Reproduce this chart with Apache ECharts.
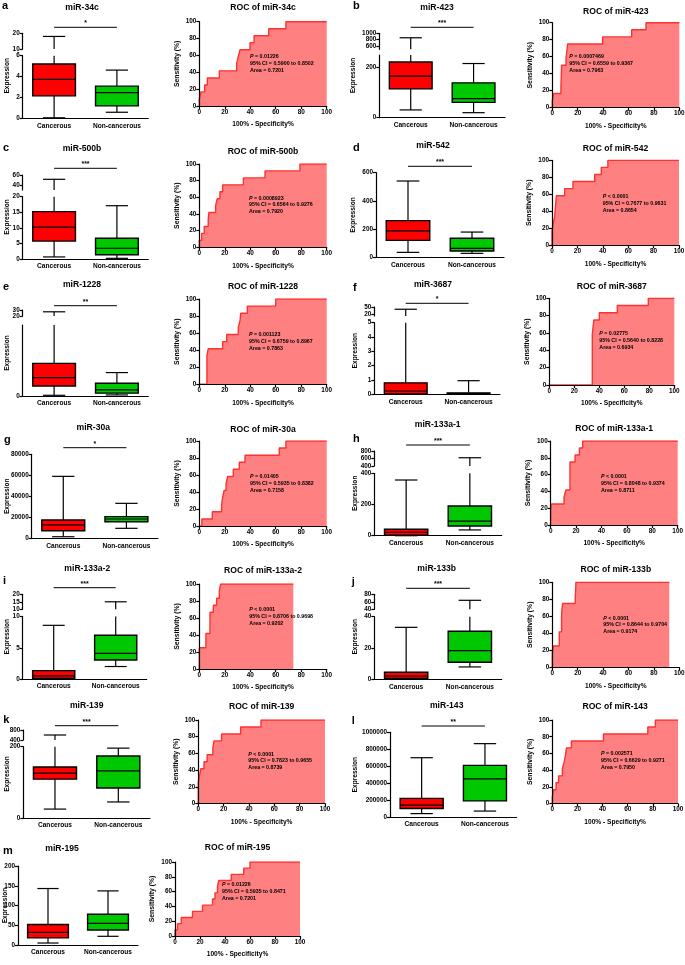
<!DOCTYPE html>
<html><head><meta charset="utf-8">
<script src="https://cdn.jsdelivr.net/npm/echarts@6/dist/echarts.min.js"></script>
<style>html,body{margin:0;padding:0;background:#fff}#c{width:685px;height:965px}</style>
</head><body><div id="c"></div>
<script>
// ---------------- DATA ----------------
const categories = ['Cancerous', 'Non-cancerous'];
// box statistics per group: [min, Q1, median, Q3, max]
const box_a = [[0.05, 2.15, 3.73, 5.2, 18], [0.58, 1.19, 2.47, 3.08, 4.62]];
const box_b = [[31, 115, 166, 222, 860], [20, 61, 76, 139, 216]];
const box_c = [[0.6, 5.7, 10.2, 15.2, 51.4], [0.15, 1.3, 3.4, 6.6, 17.1]];
const box_d = [[35, 120, 187, 260, 541], [28, 45, 64, 135, 179]];
const box_e = [[0.1, 1.4, 2.6, 4.6, 27], [0.15, 0.4, 0.85, 1.8, 3.3]];
const box_f = [[0, 0.02, 0.23, 0.8, 40], [0, 0, 0.02, 0.1, 0.95]];
const box_g = [[1500, 7200, 12700, 17400, 59000], [9500, 15800, 18400, 20600, 33300]];
const box_h = [[0, 4, 22, 41, 357], [37, 62, 94, 190, 620]];
const box_i = [[0, 0.1, 0.5, 1.35, 8.6], [2.0, 3.05, 4.1, 7.0, 15]];
const box_j = [[0, 0.6, 2.1, 4.5, 33.2], [7.9, 10.9, 18.3, 30.7, 64]];
const box_k = [[25, 109, 126, 143, 600], [45, 84, 132, 174, 196]];
const box_l = [[40000, 100000, 140000, 220000, 700000], [70000, 190000, 450000, 610000, 866000]];
const box_m = [[5, 18, 32, 52, 143], [22, 38, 55, 78, 137]];

// y-axis tick labels for each axis segment (lower segment first)
const ticks_a = [[0, 2, 4, 6], [10, 20]];
const ticks_b = [[0, 200], [600, 800, 1000]];
const ticks_c = [[0, 5, 10, 15, 20], [40, 60]];
const ticks_d = [[0, 200, 400, 600]];
const ticks_e = [[0], [20, 30]];
const ticks_f = [[0, 1, 2, 3, 4, 5], [20, 30, 40, 50]];
const ticks_g = [[0, 20000, 40000, 60000, 80000]];
const ticks_h = [[0, 200, 400], [400, 600, 800]];
const ticks_i = [[0, 5, 10], [10, 15, 20]];
const ticks_j = [[0, 20, 40], [40, 60, 80]];
const ticks_k = [[0, 200], [400, 500, 600, 800]];
const ticks_l = [[0, 200000, 400000, 600000, 800000, 1000000]];
const ticks_m = [[0, 50, 100, 150, 200]];

// ROC curves: [100% - specificity, sensitivity] at each step
const roc_a = [[0,0],[0,8.3],[1.3,16.7],[4.2,25],[6.3,33.3],[15.7,41.7],[29.3,50],[30.5,58.3],[32,66.7],[39.8,75],[43,83.3],[54.5,91.7],[68,100],[100,100]];
const roc_b = [[0,0],[0,8.3],[1,16.7],[6.8,25],[7,33.3],[7.3,50],[10.8,58.3],[11.5,66.7],[12.1,75],[39.6,83.3],[62.5,91.7],[73.8,100],[100,100]];
const roc_c = [[0,0],[0,8.3],[1.8,16.7],[3.9,25],[7,33.3],[7.5,41.7],[12.8,50],[14.1,58.3],[16.2,66.7],[18.3,75],[34.6,83.3],[51.6,91.7],[79,100],[100,100]];
const roc_d = [[0,0],[0,16.7],[0.8,25],[2.1,33.3],[2.5,41.7],[3,50],[3.4,58.3],[10,66.7],[16.5,75],[33.6,83.3],[38.8,91.7],[44,100],[100,100]];
const roc_e = [[0,0],[6,0],[6,33.3],[7,41.7],[18.3,50],[21.5,58.3],[30.6,66.7],[32,75],[32.5,83.3],[37.7,91.7],[60,100],[100,100]];
const roc_f = [[0,0],[34.4,0],[34.4,58.3],[35,66.7],[35.7,75],[40,83.3],[54.4,91.7],[79.2,100],[100,100]];
const roc_g = [[0,0],[2,8.3],[10.2,16.7],[17.5,25],[18.3,33.3],[19.4,41.7],[21,50],[22.3,58.3],[26.7,66.7],[31.4,75],[35.9,83.3],[62.8,91.7],[68,100],[100,100]];
const roc_h = [[0,0],[0,16.7],[0.5,25],[10.5,33.3],[12,41.7],[15.2,75],[19.2,83.3],[22.6,91.7],[25.2,100],[100,100]];
const roc_i = [[0,0],[0,25],[5.2,41.7],[8.4,66.7],[11,75],[13.6,83.3],[15.7,91.7],[16.8,100],[73.8,100]];
const roc_j = [[0,0],[0,16.7],[0.8,25],[5.5,41.7],[7.3,58.3],[7.5,66.7],[8.1,75],[18.1,83.3],[18.4,91.7],[18.6,100],[92.1,100]];
const roc_k = [[0,0],[0,25],[1,33.3],[2,41.7],[4.5,50],[7,58.3],[11.5,66.7],[12.4,75],[18.4,83.3],[33.4,91.7],[49.5,100],[100,100]];
const roc_l = [[0,0],[0,8.3],[1,16.7],[3,25],[5,33.3],[8,41.7],[9.5,50],[10.5,58.3],[11.3,66.7],[15.2,75],[40.7,83.3],[76,91.7],[82,100],[100,100]];
const roc_m = [[0,0],[0,8.3],[2,16.7],[5,25],[14,33.3],[22,41.7],[30,50],[32,58.3],[34,66.7],[35,75],[45,83.3],[55,91.7],[60,100],[100,100]];

const stats_text = {
  a: ['0.01226', '95% CI = 0.5900 to 0.8502', 'Area = 0.7201'],
  b: ['0.0007469', '95% CI = 0.6559 to 0.9367', 'Area = 0.7963'],
  c: ['0.0008923', '95% CI = 0.6564 to 0.9276', 'Area = 0.7920'],
  d: ['< 0.0001', '95% CI = 0.7677 to 0.9631', 'Area = 0.8654'],
  e: ['0.001123', '95% CI = 0.6759 to 0.8967', 'Area = 0.7863'],
  f: ['0.02775', '95% CI = 0.5640 to 0.8228', 'Area = 0.6934'],
  g: ['0.01405', '95% CI = 0.5935 to 0.8382', 'Area = 0.7158'],
  h: ['< 0.0001', '95% CI = 0.8048 to 0.9374', 'Area = 0.8711'],
  i: ['< 0.0001', '95% CI = 0.8706 to 0.9698', 'Area = 0.9202'],
  j: ['< 0.0001', '95% CI = 0.8644 to 0.9704', 'Area = 0.9174'],
  k: ['< 0.0001', '95% CI = 0.7823 to 0.9655', 'Area = 0.8739'],
  l: ['0.002571', '95% CI = 0.6629 to 0.9271', 'Area = 0.7950'],
  m: ['0.01226', '95% CI = 0.5935 to 0.8471', 'Area = 0.7201']
};
const names = {a:'miR-34c', b:'miR-423', c:'miR-500b', d:'miR-542', e:'miR-1228', f:'miR-3687', g:'miR-30a',
  h:'miR-133a-1', i:'miR-133a-2', j:'miR-133b', k:'miR-139', l:'miR-143', m:'miR-195'};
const signif = {a:'*', b:'***', c:'***', d:'***', e:'**', f:'*', g:'*', h:'***', i:'***', j:'***', k:'***', l:'**', m:''};

// ---------------- LAYOUT (pixels) ----------------
const FONT = '"Liberation Sans", Arial, sans-serif';
const LAY = {
  a: {box:{left:22.7,right:148.3,base:118.3,segs:[{min:0,max:6,top:55.7},{min:10,max:20,top:33.3,bottom:49}],sig:27.3,title:[82,8],letter:[2,6],ylab:7},
      roc:{left:199.3,right:326.7,top:21.7,bottom:106,title:8,text:[250,57]}},
  b: {box:{left:379.3,right:505,base:117.7,segs:[{min:0,max:250,top:55},{min:500,max:1000,top:33.3,bottom:49.3}],sig:27.3,title:[437,8],letter:[353,6],ylab:353},
      roc:{left:552.3,right:679.3,top:22.7,bottom:107.7,title:11.7,text:[569.3,57]}},
  c: {box:{left:22.7,right:148.3,base:258.8,segs:[{min:0,max:20,top:196.7},{min:30,max:60,top:175,bottom:190}],sig:168.3,title:[82,149],letter:[3,148],ylab:7},
      roc:{left:199.3,right:326.7,top:164,bottom:247.3,title:151.7,text:[249,198.3]}},
  d: {box:{left:376,right:504,base:257.3,segs:[{min:0,max:600,top:172.7}],sig:166.3,title:[433,145.7],letter:[353,148],ylab:353},
      roc:{left:552,right:679,top:160.3,bottom:245.3,title:149,text:[602.7,196.7]}},
  e: {box:{left:22.7,right:148.3,base:396,segs:[{min:0,max:10,top:325},{min:20,max:30,top:310,bottom:316}],sig:305.7,title:[82,285],letter:[3,287],ylab:7},
      roc:{left:199.3,right:326.7,top:299,bottom:384.3,title:286.7,text:[249,335]}},
  f: {box:{left:374.3,right:500,base:394.3,segs:[{min:0,max:5,top:322.7},{min:10,max:50,top:307,bottom:316}],sig:303.3,title:[433,284.3],letter:[353,288],ylab:355},
      roc:{left:549.3,right:674.3,top:298.3,bottom:385,title:286.7,text:[599.3,334]}},
  g: {box:{left:31.7,right:158,base:538.3,segs:[{min:0,max:80000,top:454.3}],sig:447.7,title:[93.3,427.7],letter:[4,440],ylab:7},
      roc:{left:199.3,right:326.7,top:441,bottom:526,title:430,text:[250,476.7]}},
  h: {box:{left:374.3,right:501.7,base:535.7,segs:[{min:0,max:400,top:473.3},{min:400,max:800,top:451,bottom:466}],sig:445,title:[437.7,424.3],letter:[353,439.3],ylab:355},
      roc:{left:550.7,right:677.7,top:441,bottom:525,title:428.3,text:[601,476.7]}},
  i: {box:{left:22.7,right:146.7,base:679,segs:[{min:0,max:10,top:616.6},{min:10,max:20,top:594.3,bottom:609.3}],sig:587.7,title:[87.3,568.3],letter:[3,581],ylab:7},
      roc:{left:199.3,right:326.7,top:584,bottom:669,title:571,text:[249.3,610]}},
  j: {box:{left:374.3,right:501.7,base:679.3,segs:[{min:0,max:40,top:616.7},{min:40,max:80,top:594.3,bottom:609.3}],sig:588.3,title:[436.7,568.3],letter:[351.7,582.3],ylab:355},
      roc:{left:552.3,right:679.3,top:582.3,bottom:667.3,title:570,text:[603.3,618.3]}},
  k: {box:{left:23.3,right:150,base:818,segs:[{min:0,max:200,top:746.7},{min:400,max:800,top:730,bottom:740}],sig:725.7,title:[86.7,705.7],letter:[3.3,720],ylab:7},
      roc:{left:198.3,right:325,top:720,bottom:803.5,title:706.7,text:[248.3,754.3]}},
  l: {box:{left:390,right:516.6,base:817,segs:[{min:0,max:1000000,top:732.3}],sig:726,title:[446.7,705.7],letter:[351.7,721],ylab:355},
      roc:{left:552.3,right:678,top:720,bottom:803.7,title:706.7,text:[601,754]}},
  m: {box:{left:18,right:138,base:945,segs:[{min:0,max:200,top:866}],sig:null,title:[62,849],letter:[3,851],ylab:5},
      roc:{left:175,right:300,top:862,bottom:936,title:848,text:[222,885]}}
};

const DATA = {
  a:{box:box_a,ticks:ticks_a,roc:roc_a}, b:{box:box_b,ticks:ticks_b,roc:roc_b}, c:{box:box_c,ticks:ticks_c,roc:roc_c},
  d:{box:box_d,ticks:ticks_d,roc:roc_d}, e:{box:box_e,ticks:ticks_e,roc:roc_e}, f:{box:box_f,ticks:ticks_f,roc:roc_f},
  g:{box:box_g,ticks:ticks_g,roc:roc_g}, h:{box:box_h,ticks:ticks_h,roc:roc_h}, i:{box:box_i,ticks:ticks_i,roc:roc_i},
  j:{box:box_j,ticks:ticks_j,roc:roc_j}, k:{box:box_k,ticks:ticks_k,roc:roc_k}, l:{box:box_l,ticks:ticks_l,roc:roc_l},
  m:{box:box_m,ticks:ticks_m,roc:roc_m}
};

// ---------------- BUILD ----------------
const FILLS = ['#ff0000', '#00c800'];
const option = {animation:false, backgroundColor:'#fff', grid:[], xAxis:[], yAxis:[], series:[], graphic:[]};
const lblStyle = (size) => ({color:'#000', fontSize:size, fontWeight:'bold', fontFamily:FONT});
const axLine = {show:true, lineStyle:{color:'#000', width:1.2}};
const plain = v => String(v);

function txt(x, y, text, size, opts) {
  opts = opts || {};
  const el = {type:'text', x:x, y:y, rotation:opts.rotation || 0, z:100, silent:true,
    style:{text:text, fill:'#000', font:(opts.italic?'italic ':'') + 'bold ' + size + 'px ' + FONT,
      align:opts.align || 'center', verticalAlign:'middle', textAlign:opts.align || 'center', textVerticalAlign:'middle'}};
  if (opts.rich) el.style.rich = opts.rich;
  option.graphic.push(el);
}

function makeBoxRender(lo, hi) {
  return function (params, api) {
    const i = api.value(0);
    const s = [api.value(1), api.value(2), api.value(3), api.value(4), api.value(5)];
    const cx = api.coord([i, lo])[0];
    const bw = api.size([1, 0])[0] * 0.68;
    const cw = bw * 0.52;
    const Y = v => api.coord([i, Math.max(lo, Math.min(hi, v))])[1];
    const ch = [];
    const st = {stroke:'#000', lineWidth:1.2};
    const seg = (a, b) => { if (b < lo || a > hi) return; const y1 = Y(a), y2 = Y(b); if (Math.abs(y1 - y2) < 0.01) return;
      ch.push({type:'line', shape:{x1:cx, y1:y1, x2:cx, y2:y2}, style:st}); };
    seg(s[0], s[1]); seg(s[3], s[4]);
    const cap = v => { if (v < lo || v > hi) return; const y = Y(v);
      ch.push({type:'line', shape:{x1:cx - cw / 2, y1:y, x2:cx + cw / 2, y2:y}, style:st}); };
    cap(s[0]); cap(s[4]);
    if (!(s[3] < lo || s[1] > hi)) {
      const yt = Y(s[3]), yb = Y(s[1]);
      ch.push({type:'rect', shape:{x:cx - bw / 2, y:yt, width:bw, height:Math.max(0.6, yb - yt)},
        style:{fill:FILLS[i], stroke:'#000', lineWidth:1.4}});
    }
    if (s[2] >= lo && s[2] <= hi) { const y = Y(s[2]);
      ch.push({type:'line', shape:{x1:cx - bw / 2, y1:y, x2:cx + bw / 2, y2:y}, style:{stroke:'#000', lineWidth:1.2}}); }
    return {type:'group', children:ch};
  };
}

function addBox(key) {
  const lay = LAY[key].box, d = DATA[key];
  let topGi = 0, topSeg = null;
  lay.segs.forEach((sg, si) => {
    const gi = option.grid.length;
    const bottom = si === 0 ? lay.base : sg.bottom;
    option.grid.push({left:lay.left, top:sg.top, width:lay.right - lay.left, height:bottom - sg.top, containLabel:false, outerBoundsMode:'none'});
    option.xAxis.push({type:'category', gridIndex:gi, data:categories, show:si === 0, boundaryGap:true,
      axisLine:axLine, axisTick:{show:false}, axisLabel:Object.assign({margin:4, interval:0}, lblStyle(6.6)), splitLine:{show:false}, z:1});
    const tv = d.ticks[si];
    option.yAxis.push({type:'value', gridIndex:gi, min:sg.min, max:sg.max, axisLine:axLine,
      axisTick:{show:true, length:3, lineStyle:{color:'#000', width:1.2}, customValues:tv},
      axisLabel:Object.assign({margin:3, customValues:tv, showMinLabel:true, showMaxLabel:true, formatter:plain}, lblStyle(6.4)),
      splitLine:{show:false}, z:1});
    option.series.push({type:'custom', xAxisIndex:gi, yAxisIndex:gi, clip:false, z:5,
      data:d.box.map((v, i) => [i].concat(v)), renderItem:makeBoxRender(sg.min, sg.max)});
    topGi = gi; topSeg = sg;
  });
  if (signif[key]) {
    const sy = lay.sig, sig = signif[key], tmax = topSeg.max;
    option.series.push({type:'custom', xAxisIndex:topGi, yAxisIndex:topGi, clip:false, z:5, data:[[0, tmax]],
      renderItem:function (p, api) {
        const x0 = api.coord([0, tmax])[0], x1 = api.coord([1, tmax])[0];
        return {type:'group', children:[
          {type:'line', shape:{x1:x0, y1:sy, x2:x1, y2:sy}, style:{stroke:'#000', lineWidth:1}},
          {type:'text', x:(x0 + x1) / 2, y:sy - 0.5, style:{text:sig, fill:'#000', font:'bold 7px ' + FONT, align:'center', verticalAlign:'bottom', textAlign:'center', textVerticalAlign:'bottom'}}]};
      }});
  }
  const topY = lay.segs[lay.segs.length - 1].top;
  txt(lay.title[0], lay.title[1], names[key], 8.6);
  txt(lay.letter[0], lay.letter[1], key, 11, {align:'left'});
  txt(lay.ylab, (topY + lay.base) / 2, 'Expression', 6.6, {rotation:Math.PI / 2});
}

function addRoc(key) {
  const r = LAY[key].roc, d = DATA[key];
  const gi = option.grid.length;
  option.grid.push({left:r.left, top:r.top, width:r.right - r.left, height:r.bottom - r.top, containLabel:false, outerBoundsMode:'none'});
  option.xAxis.push({type:'value', gridIndex:gi, min:0, max:100, interval:20, z:10,
    name:'100% - Specificity%', nameLocation:'middle', nameGap:15, nameTextStyle:lblStyle(6.6),
    axisLine:axLine, axisTick:{show:true, length:3, lineStyle:{color:'#000', width:1.2}},
    axisLabel:Object.assign({margin:3, formatter:plain}, lblStyle(6.4)), splitLine:{show:false}});
  option.yAxis.push({type:'value', gridIndex:gi, min:0, max:100, interval:20, z:10,
    name:'Sensitivity (%)', nameLocation:'middle', nameGap:19, nameTextStyle:lblStyle(6.8),
    axisLine:axLine, axisTick:{show:true, length:3, lineStyle:{color:'#000', width:1.2}},
    axisLabel:Object.assign({margin:3, formatter:plain}, lblStyle(6.4)), splitLine:{show:false}});
  option.series.push({type:'line', xAxisIndex:gi, yAxisIndex:gi, data:d.roc, step:'end', symbol:'none', z:3,
    lineStyle:{color:'#ff3030', width:1.4}, areaStyle:{color:'#ff8080', opacity:1, origin:'start'}});
  txt((r.left + r.right) / 2, r.title, 'ROC of ' + names[key], 8.6);
  const st = stats_text[key];
  const pLine = st[0].charAt(0) === '<' ? '{i|P} ' + st[0] : '{i|P} = ' + st[0];
  txt(r.text[0], r.text[1], pLine, 5.3, {align:'left', rich:{i:{fontStyle:'italic', fontWeight:'bold', fontSize:5.3, fontFamily:FONT}}});
  txt(r.text[0], r.text[1] + 6.7, st[1], 5.3, {align:'left'});
  txt(r.text[0], r.text[1] + 13.4, st[2], 5.3, {align:'left'});
}

Object.keys(LAY).forEach(k => { addBox(k); addRoc(k); });

const chart = echarts.init(document.getElementById('c'), null, {renderer:'canvas', width:685, height:965});
chart.setOption(option);
</script></body></html>
